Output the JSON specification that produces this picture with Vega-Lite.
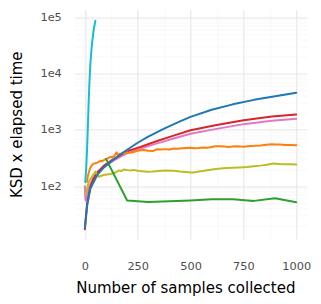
{
  "$schema": "https://vega.github.io/schema/vega-lite/v6.json",
  "width": 232.5,
  "height": 229.5,
  "autosize": "none",
  "padding": {"left": 74.3, "top": 9.5, "right": 14.2, "bottom": 65},
  "background": "white",
  "config": {"view": {"stroke": null}},
  "data": {"values": [
    {"series": "D", "samples": 0, "ksd_time": 100}, {"series": "D", "samples": 2, "ksd_time": 62}, {"series": "D", "samples": 4, "ksd_time": 56}, {"series": "D", "samples": 7, "ksd_time": 60}, {"series": "D", "samples": 11, "ksd_time": 68}, {"series": "D", "samples": 16, "ksd_time": 84}, {"series": "D", "samples": 22, "ksd_time": 100}, {"series": "D", "samples": 30, "ksd_time": 118}, {"series": "D", "samples": 40, "ksd_time": 138}, {"series": "D", "samples": 58, "ksd_time": 168}, {"series": "D", "samples": 89, "ksd_time": 218}, {"series": "D", "samples": 137, "ksd_time": 288}, {"series": "D", "samples": 184, "ksd_time": 360}, {"series": "D", "samples": 215, "ksd_time": 408}, {"series": "D", "samples": 263, "ksd_time": 468}, {"series": "D", "samples": 342, "ksd_time": 575}, {"series": "D", "samples": 420, "ksd_time": 700}, {"series": "D", "samples": 500, "ksd_time": 850}, {"series": "D", "samples": 617, "ksd_time": 1030}, {"series": "D", "samples": 751, "ksd_time": 1262}, {"series": "D", "samples": 885, "ksd_time": 1445}, {"series": "D", "samples": 1000, "ksd_time": 1570},
    {"series": "C", "samples": 0, "ksd_time": 17.3}, {"series": "C", "samples": 3, "ksd_time": 24}, {"series": "C", "samples": 11, "ksd_time": 50}, {"series": "C", "samples": 26, "ksd_time": 98}, {"series": "C", "samples": 40, "ksd_time": 135}, {"series": "C", "samples": 58, "ksd_time": 175}, {"series": "C", "samples": 89, "ksd_time": 230}, {"series": "C", "samples": 137, "ksd_time": 305}, {"series": "C", "samples": 184, "ksd_time": 385}, {"series": "C", "samples": 215, "ksd_time": 437}, {"series": "C", "samples": 263, "ksd_time": 499}, {"series": "C", "samples": 342, "ksd_time": 635}, {"series": "C", "samples": 420, "ksd_time": 790}, {"series": "C", "samples": 500, "ksd_time": 980}, {"series": "C", "samples": 617, "ksd_time": 1210}, {"series": "C", "samples": 751, "ksd_time": 1480}, {"series": "C", "samples": 885, "ksd_time": 1720}, {"series": "C", "samples": 1000, "ksd_time": 1870},
    {"series": "E", "samples": 10, "ksd_time": 120}, {"series": "E", "samples": 14, "ksd_time": 150}, {"series": "E", "samples": 18, "ksd_time": 172}, {"series": "E", "samples": 25, "ksd_time": 210}, {"series": "E", "samples": 34, "ksd_time": 238}, {"series": "E", "samples": 42, "ksd_time": 252}, {"series": "E", "samples": 50, "ksd_time": 255}, {"series": "E", "samples": 58, "ksd_time": 262}, {"series": "E", "samples": 66, "ksd_time": 270}, {"series": "E", "samples": 74, "ksd_time": 282}, {"series": "E", "samples": 82, "ksd_time": 278}, {"series": "E", "samples": 90, "ksd_time": 292}, {"series": "E", "samples": 98, "ksd_time": 300}, {"series": "E", "samples": 105, "ksd_time": 310}, {"series": "E", "samples": 113, "ksd_time": 322}, {"series": "E", "samples": 121, "ksd_time": 330}, {"series": "E", "samples": 129, "ksd_time": 328}, {"series": "E", "samples": 137, "ksd_time": 338}, {"series": "E", "samples": 145, "ksd_time": 372}, {"series": "E", "samples": 150, "ksd_time": 400}, {"series": "E", "samples": 155, "ksd_time": 360}, {"series": "E", "samples": 162, "ksd_time": 372}, {"series": "E", "samples": 170, "ksd_time": 378}, {"series": "E", "samples": 184, "ksd_time": 388}, {"series": "E", "samples": 200, "ksd_time": 396}, {"series": "E", "samples": 215, "ksd_time": 392}, {"series": "E", "samples": 230, "ksd_time": 405}, {"series": "E", "samples": 250, "ksd_time": 425}, {"series": "E", "samples": 263, "ksd_time": 436}, {"series": "E", "samples": 280, "ksd_time": 440}, {"series": "E", "samples": 300, "ksd_time": 426}, {"series": "E", "samples": 320, "ksd_time": 420}, {"series": "E", "samples": 342, "ksd_time": 452}, {"series": "E", "samples": 360, "ksd_time": 446}, {"series": "E", "samples": 380, "ksd_time": 455}, {"series": "E", "samples": 400, "ksd_time": 448}, {"series": "E", "samples": 420, "ksd_time": 466}, {"series": "E", "samples": 440, "ksd_time": 462}, {"series": "E", "samples": 460, "ksd_time": 472}, {"series": "E", "samples": 480, "ksd_time": 478}, {"series": "E", "samples": 499, "ksd_time": 479}, {"series": "E", "samples": 520, "ksd_time": 470}, {"series": "E", "samples": 540, "ksd_time": 476}, {"series": "E", "samples": 560, "ksd_time": 488}, {"series": "E", "samples": 580, "ksd_time": 482}, {"series": "E", "samples": 600, "ksd_time": 498}, {"series": "E", "samples": 617, "ksd_time": 512}, {"series": "E", "samples": 640, "ksd_time": 514}, {"series": "E", "samples": 660, "ksd_time": 505}, {"series": "E", "samples": 680, "ksd_time": 498}, {"series": "E", "samples": 700, "ksd_time": 505}, {"series": "E", "samples": 720, "ksd_time": 512}, {"series": "E", "samples": 751, "ksd_time": 502}, {"series": "E", "samples": 770, "ksd_time": 514}, {"series": "E", "samples": 800, "ksd_time": 520}, {"series": "E", "samples": 830, "ksd_time": 530}, {"series": "E", "samples": 860, "ksd_time": 545}, {"series": "E", "samples": 885, "ksd_time": 557}, {"series": "E", "samples": 900, "ksd_time": 548}, {"series": "E", "samples": 920, "ksd_time": 552}, {"series": "E", "samples": 950, "ksd_time": 540}, {"series": "E", "samples": 975, "ksd_time": 538}, {"series": "E", "samples": 1000, "ksd_time": 532},
    {"series": "F", "samples": 5, "ksd_time": 72}, {"series": "F", "samples": 8, "ksd_time": 82}, {"series": "F", "samples": 11, "ksd_time": 92}, {"series": "F", "samples": 18, "ksd_time": 119}, {"series": "F", "samples": 26, "ksd_time": 135}, {"series": "F", "samples": 34, "ksd_time": 148}, {"series": "F", "samples": 42, "ksd_time": 165}, {"series": "F", "samples": 50, "ksd_time": 182}, {"series": "F", "samples": 58, "ksd_time": 160}, {"series": "F", "samples": 66, "ksd_time": 147}, {"series": "F", "samples": 75, "ksd_time": 152}, {"series": "F", "samples": 89, "ksd_time": 158}, {"series": "F", "samples": 105, "ksd_time": 162}, {"series": "F", "samples": 120, "ksd_time": 165}, {"series": "F", "samples": 137, "ksd_time": 170}, {"series": "F", "samples": 150, "ksd_time": 180}, {"series": "F", "samples": 160, "ksd_time": 190}, {"series": "F", "samples": 172, "ksd_time": 186}, {"series": "F", "samples": 184, "ksd_time": 198}, {"series": "F", "samples": 200, "ksd_time": 193}, {"series": "F", "samples": 215, "ksd_time": 190}, {"series": "F", "samples": 230, "ksd_time": 195}, {"series": "F", "samples": 250, "ksd_time": 188}, {"series": "F", "samples": 270, "ksd_time": 184}, {"series": "F", "samples": 294, "ksd_time": 180}, {"series": "F", "samples": 320, "ksd_time": 182}, {"series": "F", "samples": 350, "ksd_time": 186}, {"series": "F", "samples": 380, "ksd_time": 190}, {"series": "F", "samples": 420, "ksd_time": 188}, {"series": "F", "samples": 450, "ksd_time": 182}, {"series": "F", "samples": 480, "ksd_time": 178}, {"series": "F", "samples": 500, "ksd_time": 175}, {"series": "F", "samples": 515, "ksd_time": 176}, {"series": "F", "samples": 540, "ksd_time": 182}, {"series": "F", "samples": 578, "ksd_time": 192}, {"series": "F", "samples": 610, "ksd_time": 200}, {"series": "F", "samples": 641, "ksd_time": 206}, {"series": "F", "samples": 670, "ksd_time": 210}, {"series": "F", "samples": 700, "ksd_time": 212}, {"series": "F", "samples": 730, "ksd_time": 215}, {"series": "F", "samples": 767, "ksd_time": 220}, {"series": "F", "samples": 800, "ksd_time": 226}, {"series": "F", "samples": 830, "ksd_time": 232}, {"series": "F", "samples": 860, "ksd_time": 240}, {"series": "F", "samples": 893, "ksd_time": 252}, {"series": "F", "samples": 920, "ksd_time": 247}, {"series": "F", "samples": 950, "ksd_time": 245}, {"series": "F", "samples": 975, "ksd_time": 246}, {"series": "F", "samples": 1000, "ksd_time": 242},
    {"series": "G", "samples": 100, "ksd_time": 305}, {"series": "G", "samples": 200, "ksd_time": 56}, {"series": "G", "samples": 300, "ksd_time": 52.5}, {"series": "G", "samples": 400, "ksd_time": 54}, {"series": "G", "samples": 500, "ksd_time": 56}, {"series": "G", "samples": 600, "ksd_time": 59}, {"series": "G", "samples": 700, "ksd_time": 58.5}, {"series": "G", "samples": 800, "ksd_time": 55}, {"series": "G", "samples": 900, "ksd_time": 61}, {"series": "G", "samples": 1000, "ksd_time": 52},
    {"series": "B", "samples": 0, "ksd_time": 18.5}, {"series": "B", "samples": 3, "ksd_time": 23}, {"series": "B", "samples": 11, "ksd_time": 46}, {"series": "B", "samples": 26, "ksd_time": 91}, {"series": "B", "samples": 58, "ksd_time": 157}, {"series": "B", "samples": 89, "ksd_time": 213}, {"series": "B", "samples": 137, "ksd_time": 300}, {"series": "B", "samples": 184, "ksd_time": 405}, {"series": "B", "samples": 250, "ksd_time": 590}, {"series": "B", "samples": 300, "ksd_time": 760}, {"series": "B", "samples": 375, "ksd_time": 1050}, {"series": "B", "samples": 450, "ksd_time": 1410}, {"series": "B", "samples": 500, "ksd_time": 1700}, {"series": "B", "samples": 600, "ksd_time": 2270}, {"series": "B", "samples": 700, "ksd_time": 2830}, {"series": "B", "samples": 800, "ksd_time": 3400}, {"series": "B", "samples": 900, "ksd_time": 3950}, {"series": "B", "samples": 1000, "ksd_time": 4550},
    {"series": "A", "samples": 2, "ksd_time": 118}, {"series": "A", "samples": 6, "ksd_time": 200}, {"series": "A", "samples": 10, "ksd_time": 420}, {"series": "A", "samples": 14, "ksd_time": 1100}, {"series": "A", "samples": 18, "ksd_time": 3200}, {"series": "A", "samples": 22, "ksd_time": 7500}, {"series": "A", "samples": 26, "ksd_time": 14500}, {"series": "A", "samples": 30, "ksd_time": 23000}, {"series": "A", "samples": 34, "ksd_time": 34000}, {"series": "A", "samples": 38, "ksd_time": 46000}, {"series": "A", "samples": 42, "ksd_time": 60000}, {"series": "A", "samples": 46, "ksd_time": 73000}, {"series": "A", "samples": 50, "ksd_time": 86000}
  ]},
  "mark": {"type": "line", "strokeWidth": 2, "strokeCap": "round", "strokeJoin": "round"},
  "encoding": {
    "x": {
      "field": "samples", "type": "quantitative",
      "scale": {"domain": [-50, 1050], "nice": false, "zero": false},
      "axis": {
        "values": [0, 125, 250, 375, 500, 625, 750, 875, 1000],
        "format": "d",
        "labelExpr": "datum.value % 250 == 0 ? datum.label : ''",
        "labelFlush": false, "labelOverlap": false,
        "ticks": false, "tickSize": 0, "domain": false,
        "labelPadding": 21, "labelFont": "DejaVu Sans", "labelFontSize": 11.3, "labelColor": "#4d4d4d",
        "gridColor": {"condition": {"test": "datum.value % 250 == 0", "value": "#e6e6e6"}, "value": "#f3f3f3"},
        "gridWidth": {"condition": {"test": "datum.value % 250 == 0", "value": 1.1}, "value": 0.6},
        "title": "Number of samples collected",
        "titleFont": "DejaVu Sans", "titleFontSize": 15, "titleFontWeight": "normal", "titleColor": "#000000",
        "titleX": 111, "titleY": 48, "titleBaseline": "middle", "titleAlign": "center"
      }
    },
    "y": {
      "field": "ksd_time", "type": "quantitative",
      "scale": {"type": "log", "domain": [11.6, 136000], "nice": false},
      "axis": {
        "values": [20, 30, 40, 50, 60, 70, 80, 90, 100, 200, 300, 400, 500, 600, 700, 800, 900, 1000, 2000, 3000, 4000, 5000, 6000, 7000, 8000, 9000, 10000, 20000, 30000, 40000, 50000, 60000, 70000, 80000, 90000, 100000],
        "labelExpr": "datum.value == 100 ? '1e2' : datum.value == 1000 ? '1e3' : datum.value == 10000 ? '1e4' : datum.value == 100000 ? '1e5' : ''",
        "labelOverlap": false, "labelFlush": false,
        "ticks": false, "tickSize": 0, "domain": false,
        "labelPadding": 13, "labelFont": "DejaVu Sans", "labelFontSize": 11.3, "labelColor": "#4d4d4d",
        "gridColor": {"condition": {"test": "indexof([100, 1000, 10000, 100000], datum.value) >= 0", "value": "#e6e6e6"}, "value": "#f3f3f3"},
        "gridWidth": {"condition": {"test": "indexof([100, 1000, 10000, 100000], datum.value) >= 0", "value": 1.1}, "value": 0.6},
        "title": "KSD x elapsed time",
        "titleFont": "DejaVu Sans", "titleFontSize": 15, "titleFontWeight": "normal", "titleColor": "#000000",
        "titleAngle": -90, "titleX": -58, "titleY": 114.75, "titleBaseline": "middle", "titleAlign": "center"
      }
    },
    "color": {
      "field": "series", "type": "nominal",
      "scale": {"domain": ["A", "B", "C", "D", "E", "F", "G"], "range": ["#17becf", "#1f77b4", "#d62728", "#e377c2", "#ff7f0e", "#bcbd22", "#2ca02c"]},
      "legend": null
    }
  }
}
